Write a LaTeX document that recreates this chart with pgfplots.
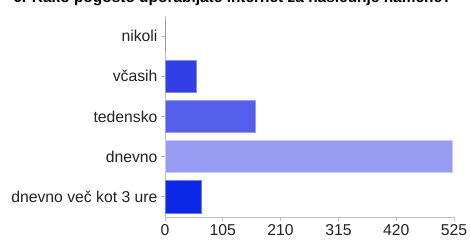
\documentclass[border=0pt]{standalone}
\usepackage{fontspec}
\setmainfont{Liberation Sans}
\usepackage{pgfplots}
\pgfplotsset{compat=1.18}
\definecolor{cA}{RGB}{10,40,230}
\definecolor{cAb}{RGB}{110,125,240}
\definecolor{cB}{RGB}{152,155,242}
\definecolor{cBb}{RGB}{200,202,250}
\definecolor{cC}{RGB}{85,95,235}
\definecolor{cCb}{RGB}{150,158,245}
\definecolor{cD}{RGB}{50,62,232}
\definecolor{cDb}{RGB}{130,140,242}
\definecolor{axgray}{RGB}{190,190,190}
\definecolor{txt}{RGB}{34,34,34}
\begin{document}
\begin{tikzpicture}
\begin{axis}[
  scale only axis, width=289bp, height=201bp,
  xmin=0, xmax=525, ymin=-0.5, ymax=4.5,
  ytick={0,1,2,3,4},
  yticklabels={dnevno več kot 3 ure, dnevno, tedensko, včasih, nikoli},
  xtick={0,105,210,315,420,525},
  axis x line*=bottom, axis y line*=left,
  axis line style={draw=axgray, line width=0.8bp},
  tick style={draw=axgray, line width=0.8bp},
  major tick length=4bp,
  tick align=outside,
  font=\fontsize{15.8}{18}\selectfont\color{txt},
  /pgf/number format/assume math mode=true,
  ticklabel style={font=\fontsize{15.8}{18}\selectfont\color{txt}},
  bar width=32bp,
]
\addplot[xbar, bar shift=0pt, fill=cA, draw=cAb, line width=0.8bp] coordinates {(66,0)};
\addplot[xbar, bar shift=0pt, fill=cB, draw=cBb, line width=0.8bp] coordinates {(522,1)};
\addplot[xbar, bar shift=0pt, fill=cC, draw=cCb, line width=0.8bp] coordinates {(164,2)};
\addplot[xbar, bar shift=0pt, fill=cD, draw=cDb, line width=0.8bp] coordinates {(57,3)};
\addplot[xbar, bar shift=0pt, fill=cD, draw=cDb, line width=0.8bp] coordinates {(0,4)};
\end{axis}
\node[anchor=base, font=\bfseries\fontsize{15.5}{18}\selectfont, text=black, inner sep=0pt] at (67.5bp,214.5bp) {6. Kako pogosto uporabljate internet za naslednje namene?};
\pgfresetboundingbox
\useasboundingbox (-165bp,-24bp) rectangle (305bp,217bp);
\end{tikzpicture}
\end{document}
